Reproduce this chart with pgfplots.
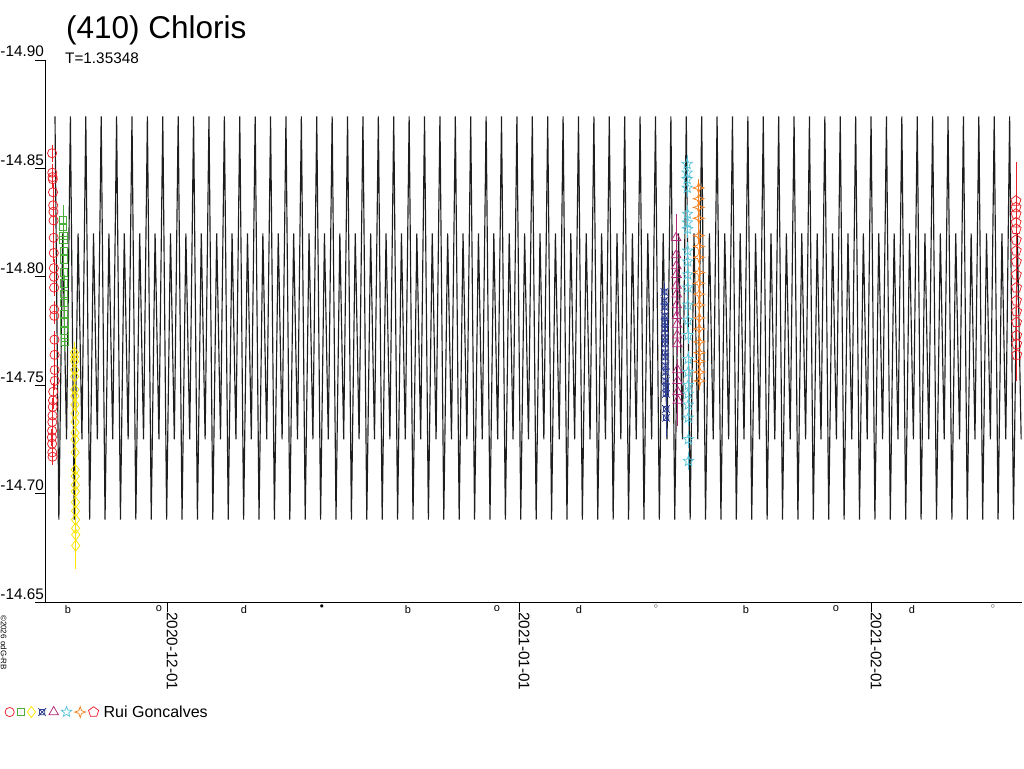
\documentclass[border=0pt]{standalone}
\usepackage{pgfplots}
\pgfplotsset{compat=1.18}
\usepackage{fontspec}
\setmainfont{Liberation Sans}
\newfontfamily\djv{DejaVu Sans}

\definecolor{cred}{RGB}{232,32,40}
\definecolor{cgreen}{RGB}{76,175,60}
\definecolor{cyellow}{RGB}{250,230,0}
\definecolor{cblue}{RGB}{46,62,146}
\definecolor{cmag}{RGB}{176,40,120}
\definecolor{ccyan}{RGB}{90,196,216}
\definecolor{corange}{RGB}{245,128,32}
\definecolor{ccurve}{RGB}{30,30,30}

\pgfdeclareplotmark{ostar}{%
  \pgfpathmoveto{\pgfpointpolar{90}{\pgfplotmarksize}}%
  \pgfpathlineto{\pgfpointpolar{126}{0.42\pgfplotmarksize}}%
  \pgfpathlineto{\pgfpointpolar{162}{\pgfplotmarksize}}%
  \pgfpathlineto{\pgfpointpolar{198}{0.42\pgfplotmarksize}}%
  \pgfpathlineto{\pgfpointpolar{234}{\pgfplotmarksize}}%
  \pgfpathlineto{\pgfpointpolar{270}{0.42\pgfplotmarksize}}%
  \pgfpathlineto{\pgfpointpolar{306}{\pgfplotmarksize}}%
  \pgfpathlineto{\pgfpointpolar{342}{0.42\pgfplotmarksize}}%
  \pgfpathlineto{\pgfpointpolar{18}{\pgfplotmarksize}}%
  \pgfpathlineto{\pgfpointpolar{54}{0.42\pgfplotmarksize}}%
  \pgfpathclose\pgfusepathqstroke}
\pgfdeclareplotmark{fstar}{%
  \pgfpathmoveto{\pgfpointpolar{90}{\pgfplotmarksize}}%
  \pgfpathlineto{\pgfpointpolar{135}{0.35\pgfplotmarksize}}%
  \pgfpathlineto{\pgfpointpolar{180}{\pgfplotmarksize}}%
  \pgfpathlineto{\pgfpointpolar{225}{0.35\pgfplotmarksize}}%
  \pgfpathlineto{\pgfpointpolar{270}{\pgfplotmarksize}}%
  \pgfpathlineto{\pgfpointpolar{315}{0.35\pgfplotmarksize}}%
  \pgfpathlineto{\pgfpointpolar{0}{\pgfplotmarksize}}%
  \pgfpathlineto{\pgfpointpolar{45}{0.35\pgfplotmarksize}}%
  \pgfpathclose\pgfusepathqstroke}
\pgfdeclareplotmark{sqx}{%
  \pgfpathrectanglecorners{\pgfpoint{-0.7\pgfplotmarksize}{-0.7\pgfplotmarksize}}{\pgfpoint{0.7\pgfplotmarksize}{0.7\pgfplotmarksize}}%
  \pgfpathmoveto{\pgfpoint{-\pgfplotmarksize}{-\pgfplotmarksize}}%
  \pgfpathlineto{\pgfpoint{\pgfplotmarksize}{\pgfplotmarksize}}%
  \pgfpathmoveto{\pgfpoint{-\pgfplotmarksize}{\pgfplotmarksize}}%
  \pgfpathlineto{\pgfpoint{\pgfplotmarksize}{-\pgfplotmarksize}}%
  \pgfusepathqstroke}

\pgfplotsset{
  dat/.style={only marks, line width=0.75pt, mark options={solid, line width=0.75pt},
    error bars/y dir=both, error bars/y explicit, error bars/error mark=none,
    error bars/error bar style={line width=0.75pt},
    legend image code/.code={\draw[##1] plot coordinates {(0pt,0pt)};}},
}

\begin{document}
\begin{tikzpicture}
\path[use as bounding box] (0pt,0pt) rectangle (1024pt,768pt);
\begin{axis}[
  scale only axis, width=977pt, height=542pt,
  at={(45pt,166pt)}, anchor=south west,
  xmin=-10.744, xmax=75.30, ymin=-14.90, ymax=-14.65,
  y dir=reverse,
  clip=false,
  axis line style={draw=none},
  xtick={0,31,62}, xticklabels={2020-12-01,2021-01-01,2021-02-01},
  ytick={-14.90,-14.85,-14.80,-14.75,-14.70,-14.65},
  yticklabels={-14.90,-14.85,-14.80,-14.75,-14.70,-14.65},
  minor tick num=0,
  tick align=outside,
  xtick pos=bottom, ytick pos=left,
  major tick length=10pt,
  tick style={black, line width=0.8pt},
  tick label style={font=\fontsize{15.3}{18}\selectfont},
  xticklabel style={rotate=-90, anchor=base west, inner sep=0pt},
  yticklabel style={anchor=base east, inner sep=0pt, xshift=9pt, yshift=3pt},
  legend columns=-1,
  legend style={draw=none, fill=none, at={(axis description cs:-0.0409,-0.2030)}, anchor=west,
    inner sep=0pt, outer sep=0pt,
    nodes={inner sep=0pt, font=\fontsize{16}{19}\selectfont},
    /tikz/every odd column/.style={column sep=0pt},
    /tikz/every even column/.style={column sep=1.9pt}},
]
% model light curve
\addplot[forget plot, color=ccurve, line width=1.15pt, line join=bevel, no markers] coordinates {
(-9.863,-14.874) (-9.524,-14.688) (-9.185,-14.820) (-8.846,-14.725)
(-8.507,-14.874) (-8.168,-14.688) (-7.829,-14.820) (-7.490,-14.725)
(-7.151,-14.874) (-6.812,-14.688) (-6.473,-14.820) (-6.134,-14.725)
(-5.795,-14.874) (-5.456,-14.688) (-5.117,-14.820) (-4.778,-14.725)
(-4.439,-14.874) (-4.100,-14.688) (-3.761,-14.820) (-3.422,-14.725)
(-3.083,-14.874) (-2.744,-14.688) (-2.405,-14.820) (-2.066,-14.725)
(-1.727,-14.874) (-1.388,-14.688) (-1.049,-14.820) (-0.710,-14.725)
(-0.371,-14.874) (-0.032,-14.688) (0.307,-14.820) (0.646,-14.725)
(0.985,-14.874) (1.324,-14.688) (1.663,-14.820) (2.002,-14.725)
(2.341,-14.874) (2.680,-14.688) (3.019,-14.820) (3.358,-14.725)
(3.697,-14.874) (4.036,-14.688) (4.375,-14.820) (4.714,-14.725)
(5.053,-14.874) (5.392,-14.688) (5.731,-14.820) (6.070,-14.725)
(6.409,-14.874) (6.748,-14.688) (7.087,-14.820) (7.426,-14.725)
(7.765,-14.874) (8.104,-14.688) (8.443,-14.820) (8.782,-14.725)
(9.121,-14.874) (9.460,-14.688) (9.799,-14.820) (10.138,-14.725)
(10.477,-14.874) (10.816,-14.688) (11.155,-14.820) (11.494,-14.725)
(11.833,-14.874) (12.172,-14.688) (12.511,-14.820) (12.850,-14.725)
(13.189,-14.874) (13.528,-14.688) (13.867,-14.820) (14.206,-14.725)
(14.545,-14.874) (14.884,-14.688) (15.223,-14.820) (15.562,-14.725)
(15.901,-14.874) (16.240,-14.688) (16.579,-14.820) (16.918,-14.725)
(17.257,-14.874) (17.596,-14.688) (17.935,-14.820) (18.274,-14.725)
(18.613,-14.874) (18.952,-14.688) (19.291,-14.820) (19.630,-14.725)
(19.969,-14.874) (20.308,-14.688) (20.647,-14.820) (20.986,-14.725)
(21.325,-14.874) (21.664,-14.688) (22.003,-14.820) (22.342,-14.725)
(22.681,-14.874) (23.020,-14.688) (23.359,-14.820) (23.698,-14.725)
(24.037,-14.874) (24.376,-14.688) (24.715,-14.820) (25.054,-14.725)
(25.393,-14.874) (25.732,-14.688) (26.071,-14.820) (26.410,-14.725)
(26.749,-14.874) (27.088,-14.688) (27.427,-14.820) (27.766,-14.725)
(28.105,-14.874) (28.444,-14.688) (28.783,-14.820) (29.122,-14.725)
(29.461,-14.874) (29.800,-14.688) (30.139,-14.820) (30.478,-14.725)
(30.817,-14.874) (31.156,-14.688) (31.495,-14.820) (31.834,-14.725)
(32.173,-14.874) (32.512,-14.688) (32.851,-14.820) (33.190,-14.725)
(33.529,-14.874) (33.868,-14.688) (34.207,-14.820) (34.546,-14.725)
(34.885,-14.874) (35.224,-14.688) (35.563,-14.820) (35.902,-14.725)
(36.241,-14.874) (36.580,-14.688) (36.919,-14.820) (37.258,-14.725)
(37.597,-14.874) (37.936,-14.688) (38.275,-14.820) (38.614,-14.725)
(38.953,-14.874) (39.292,-14.688) (39.631,-14.820) (39.970,-14.725)
(40.309,-14.874) (40.648,-14.688) (40.987,-14.820) (41.326,-14.725)
(41.665,-14.874) (42.004,-14.688) (42.343,-14.820) (42.682,-14.725)
(43.021,-14.874) (43.360,-14.688) (43.699,-14.820) (44.038,-14.725)
(44.377,-14.874) (44.716,-14.688) (45.055,-14.820) (45.394,-14.725)
(45.733,-14.874) (46.072,-14.688) (46.411,-14.820) (46.750,-14.725)
(47.089,-14.874) (47.428,-14.688) (47.767,-14.820) (48.106,-14.725)
(48.445,-14.874) (48.784,-14.688) (49.123,-14.820) (49.462,-14.725)
(49.801,-14.874) (50.140,-14.688) (50.479,-14.820) (50.818,-14.725)
(51.157,-14.874) (51.496,-14.688) (51.835,-14.820) (52.174,-14.725)
(52.513,-14.874) (52.852,-14.688) (53.191,-14.820) (53.530,-14.725)
(53.869,-14.874) (54.208,-14.688) (54.547,-14.820) (54.886,-14.725)
(55.225,-14.874) (55.564,-14.688) (55.903,-14.820) (56.242,-14.725)
(56.581,-14.874) (56.920,-14.688) (57.259,-14.820) (57.598,-14.725)
(57.937,-14.874) (58.276,-14.688) (58.615,-14.820) (58.954,-14.725)
(59.293,-14.874) (59.632,-14.688) (59.971,-14.820) (60.310,-14.725)
(60.649,-14.874) (60.988,-14.688) (61.327,-14.820) (61.666,-14.725)
(62.005,-14.874) (62.344,-14.688) (62.683,-14.820) (63.022,-14.725)
(63.361,-14.874) (63.700,-14.688) (64.039,-14.820) (64.378,-14.725)
(64.717,-14.874) (65.056,-14.688) (65.395,-14.820) (65.734,-14.725)
(66.073,-14.874) (66.412,-14.688) (66.751,-14.820) (67.090,-14.725)
(67.429,-14.874) (67.768,-14.688) (68.107,-14.820) (68.446,-14.725)
(68.785,-14.874) (69.124,-14.688) (69.463,-14.820) (69.802,-14.725)
(70.141,-14.874) (70.480,-14.688) (70.819,-14.820) (71.158,-14.725)
(71.497,-14.874) (71.836,-14.688) (72.175,-14.820) (72.514,-14.725)
(72.853,-14.874) (73.192,-14.688) (73.531,-14.820) (73.870,-14.725)
(74.209,-14.874) (74.548,-14.688) (74.887,-14.820) (75.226,-14.725)
};
% session 1: red circles
\addplot[dat, color=cred, mark=o, mark size=4.6pt] coordinates {
(-10.12,-14.857) +- (0,0.004) (-10.10,-14.848) +- (0,0.004) (-10.08,-14.846) +- (0,0.004)
(-10.06,-14.845) +- (0,0.004) (-10.04,-14.839) +- (0,0.004) (-10.02,-14.833) +- (0,0.004)
(-10.00,-14.830) +- (0,0.004) (-9.99,-14.826) +- (0,0.004) (-9.98,-14.818) +- (0,0.004)
(-9.97,-14.811) +- (0,0.004) (-9.96,-14.804) +- (0,0.004) (-9.95,-14.800) +- (0,0.004)
(-9.94,-14.795) +- (0,0.004) (-9.93,-14.785) +- (0,0.004) (-9.92,-14.782) +- (0,0.004)
(-9.91,-14.771) +- (0,0.004) (-9.90,-14.764) +- (0,0.004) (-9.89,-14.757) +- (0,0.004)
(-9.88,-14.752) +- (0,0.004) (-10.02,-14.747) +- (0,0.004) (-10.04,-14.743) +- (0,0.004)
(-10.06,-14.740) +- (0,0.004) (-10.08,-14.736) +- (0,0.004) (-10.10,-14.733) +- (0,0.004)
(-10.12,-14.729) +- (0,0.004) (-10.14,-14.726) +- (0,0.004) (-10.12,-14.723) +- (0,0.004)
(-10.10,-14.719) +- (0,0.004) (-10.08,-14.717) +- (0,0.004)
};
\addlegendentry{}
% session 2: green squares
\addplot[dat, color=cgreen, mark=square, mark size=3.6pt] coordinates {
(-9.15,-14.826) +- (0,0.007) (-9.14,-14.823) +- (0,0.004) (-9.13,-14.819) +- (0,0.004)
(-9.12,-14.817) +- (0,0.004) (-9.11,-14.812) +- (0,0.004) (-9.10,-14.808) +- (0,0.004)
(-9.09,-14.802) +- (0,0.004) (-9.08,-14.797) +- (0,0.004) (-9.07,-14.792) +- (0,0.004)
(-9.06,-14.788) +- (0,0.004) (-9.05,-14.783) +- (0,0.004) (-9.04,-14.779) +- (0,0.004)
(-9.03,-14.775) +- (0,0.004) (-9.02,-14.772) +- (0,0.004) (-9.01,-14.770) +- (0,0.004)
};
\addlegendentry{}
% session 3: yellow diamonds
\addplot[dat, color=cyellow, mark=diamond, mark size=5.5pt] coordinates {
(-8.15,-14.765) +- (0,0.005) (-8.14,-14.763) +- (0,0.005) (-8.14,-14.761) +- (0,0.005)
(-8.13,-14.757) +- (0,0.005) (-8.13,-14.754) +- (0,0.005) (-8.12,-14.748) +- (0,0.005)
(-8.12,-14.745) +- (0,0.005) (-8.11,-14.741) +- (0,0.005) (-8.11,-14.737) +- (0,0.005)
(-8.10,-14.733) +- (0,0.005) (-8.10,-14.728) +- (0,0.005) (-8.09,-14.725) +- (0,0.005)
(-8.09,-14.719) +- (0,0.005) (-8.08,-14.711) +- (0,0.005) (-8.08,-14.708) +- (0,0.005)
(-8.07,-14.704) +- (0,0.005) (-8.07,-14.701) +- (0,0.005) (-8.06,-14.696) +- (0,0.005)
(-8.06,-14.692) +- (0,0.005) (-8.05,-14.688) +- (0,0.005) (-8.05,-14.684) +- (0,0.006)
(-8.04,-14.681) +- (0,0.007) (-8.04,-14.676) +- (0,0.011)
};
\addlegendentry{}
% session 4: blue
\addplot[dat, color=cblue, mark=sqx, mark size=3.8pt] coordinates {
(43.80,-14.793) +- (0,0.004) (43.81,-14.789) +- (0,0.004) (43.82,-14.786) +- (0,0.004)
(43.83,-14.782) +- (0,0.004) (43.84,-14.779) +- (0,0.004) (43.85,-14.776) +- (0,0.004)
(43.86,-14.772) +- (0,0.004) (43.87,-14.769) +- (0,0.004) (43.88,-14.765) +- (0,0.004)
(43.89,-14.763) +- (0,0.004) (43.90,-14.759) +- (0,0.004) (43.91,-14.756) +- (0,0.004)
(43.92,-14.752) +- (0,0.004) (43.93,-14.749) +- (0,0.004) (43.94,-14.746) +- (0,0.004)
(43.95,-14.739) +- (0,0.006) (43.96,-14.735) +- (0,0.009)
};
\addlegendentry{}
% session 5: magenta triangles
\addplot[dat, color=cmag, mark=triangle, mark size=5.5pt] coordinates {
(44.84,-14.818) +- (0,0.011) (44.85,-14.810) +- (0,0.005) (44.86,-14.805) +- (0,0.005)
(44.87,-14.801) +- (0,0.005) (44.88,-14.796) +- (0,0.005) (44.89,-14.792) +- (0,0.005)
(44.90,-14.787) +- (0,0.005) (44.91,-14.782) +- (0,0.005) (44.92,-14.778) +- (0,0.005)
(44.93,-14.773) +- (0,0.005) (44.94,-14.769) +- (0,0.005) (44.95,-14.757) +- (0,0.005)
(44.96,-14.752) +- (0,0.005) (44.97,-14.747) +- (0,0.008) (44.98,-14.743) +- (0,0.012)
};
\addlegendentry{}
% session 6: cyan stars
\addplot[dat, color=ccyan, mark=ostar, mark size=5.5pt] coordinates {
(45.80,-14.852) +- (0,0.004) (45.81,-14.848) +- (0,0.004) (45.81,-14.845) +- (0,0.004)
(45.82,-14.841) +- (0,0.004) (45.83,-14.829) +- (0,0.004) (45.83,-14.825) +- (0,0.004)
(45.84,-14.822) +- (0,0.004) (45.85,-14.812) +- (0,0.004) (45.85,-14.807) +- (0,0.004)
(45.86,-14.801) +- (0,0.004) (45.86,-14.795) +- (0,0.004) (45.87,-14.787) +- (0,0.004)
(45.87,-14.780) +- (0,0.004) (45.88,-14.773) +- (0,0.004) (45.89,-14.762) +- (0,0.004)
(45.89,-14.756) +- (0,0.004) (45.90,-14.750) +- (0,0.004) (45.90,-14.746) +- (0,0.004)
(45.91,-14.741) +- (0,0.004) (45.91,-14.735) +- (0,0.004) (45.92,-14.725) +- (0,0.004)
(45.93,-14.715) +- (0,0.004)
};
\addlegendentry{}
% session 7: orange 4-point stars
\addplot[dat, color=corange, mark=fstar, mark size=5.5pt] coordinates {
(46.82,-14.841) +- (0,0.004) (46.83,-14.836) +- (0,0.004) (46.83,-14.832) +- (0,0.004)
(46.84,-14.827) +- (0,0.004) (46.84,-14.819) +- (0,0.004) (46.85,-14.814) +- (0,0.004)
(46.85,-14.809) +- (0,0.004) (46.86,-14.802) +- (0,0.004) (46.86,-14.797) +- (0,0.004)
(46.87,-14.792) +- (0,0.004) (46.87,-14.787) +- (0,0.004) (46.88,-14.781) +- (0,0.004)
(46.88,-14.776) +- (0,0.004) (46.89,-14.770) +- (0,0.004) (46.89,-14.765) +- (0,0.004)
(46.90,-14.761) +- (0,0.004) (46.90,-14.756) +- (0,0.004) (46.91,-14.752) +- (0,0.004)
};
\addlegendentry{}
% session 8: red pentagons
\addplot[dat, color=cred, mark=pentagon, mark size=5.3pt] coordinates {
(74.76,-14.835) +- (0,0.018) (74.77,-14.832) +- (0,0.006) (74.77,-14.829) +- (0,0.005)
(74.78,-14.825) +- (0,0.005) (74.78,-14.822) +- (0,0.005) (74.79,-14.817) +- (0,0.005)
(74.79,-14.812) +- (0,0.005) (74.80,-14.807) +- (0,0.005) (74.80,-14.801) +- (0,0.005)
(74.81,-14.795) +- (0,0.005) (74.81,-14.789) +- (0,0.005) (74.82,-14.784) +- (0,0.005)
(74.82,-14.779) +- (0,0.005) (74.83,-14.773) +- (0,0.006) (74.83,-14.769) +- (0,0.008)
(74.84,-14.764) +- (0,0.012)
};
\addlegendentry{\hspace{5pt}Rui Goncalves}
% moon phase symbols along the time axis
\begin{scope}[every node/.style={anchor=north, inner sep=0pt, yshift=-3pt, font=\fontsize{11}{12}\selectfont}]
\node at (axis cs:-8.72,-14.65) {b};
\node at (axis cs:-0.70,-14.65) {o};
\node at (axis cs:6.78,-14.65) {d};
\node at (axis cs:13.65,-14.65) {\djv\fontsize{11}{12}\selectfont •};
\node at (axis cs:21.22,-14.65) {b};
\node at (axis cs:29.06,-14.65) {o};
\node at (axis cs:36.28,-14.65) {d};
\node at (axis cs:43.06,-14.65) {\djv\fontsize{11}{12}\selectfont ◦};
\node at (axis cs:50.99,-14.65) {b};
\node at (axis cs:58.92,-14.65) {o};
\node at (axis cs:65.61,-14.65) {d};
\node at (axis cs:72.74,-14.65) {\djv\fontsize{11}{12}\selectfont ◦};
\end{scope}
\end{axis}
% axis lines
\draw[line width=0.8pt, black] (45pt,708pt) -- (45pt,166pt) -- (1022pt,166pt);
% titles
\node[anchor=base west, inner sep=0pt, font=\fontsize{31.5}{36}\selectfont] at (66pt,729pt) {(410) Chloris};
\node[anchor=base west, inner sep=0pt, font=\fontsize{15.3}{18}\selectfont] at (65pt,704.5pt) {T=1.35348};
\node[rotate=-90, anchor=base west, inner sep=0pt, font=\fontsize{8}{9}\selectfont] at (1pt,153pt) {©2026 odG-RB};
\end{tikzpicture}
\end{document}
